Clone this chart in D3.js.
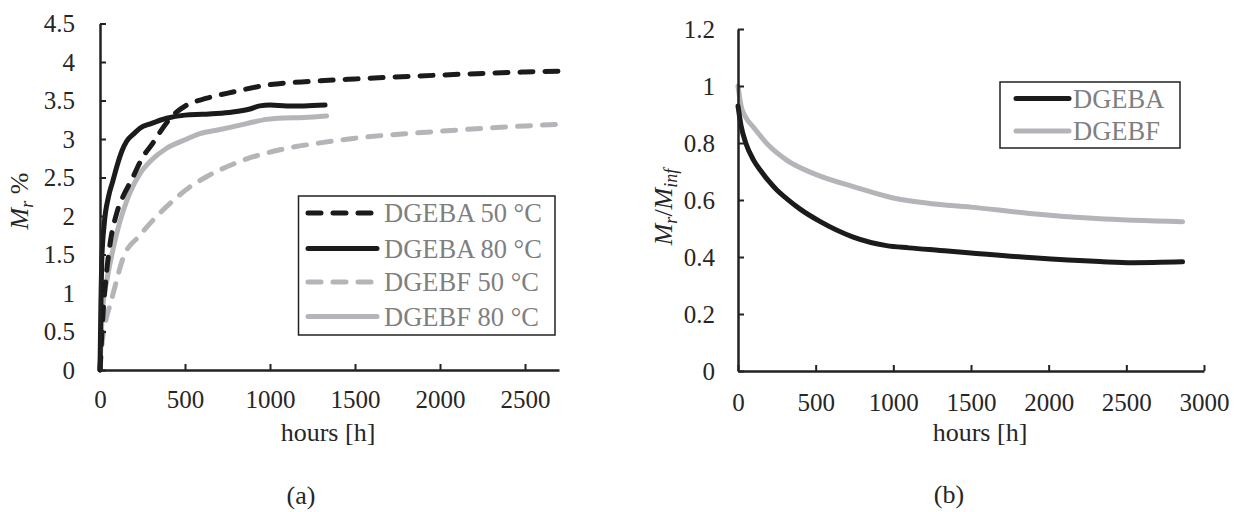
<!DOCTYPE html>
<html>
<head>
<meta charset="utf-8">
<script src="https://cdn.jsdelivr.net/npm/d3@7"></script>
<style>
  html, body { margin: 0; padding: 0; background: #fff; }
  svg { display: block; font-family: "Liberation Serif", "Times New Roman", serif; }
</style>
</head>
<body>
<svg id="chart" width="1234" height="512"></svg>
<script>
// ---- Panel (a): moisture uptake M_r % vs time ----
const hoursA_DGEBA50 = [0, 20, 40, 60, 100, 135, 186, 253, 312, 353, 430, 510, 629, 782, 980, 1255, 1500, 2000, 2500, 2700];
const valsA_DGEBA50  = [0, 0.8, 1.3, 1.65, 2.05, 2.25, 2.47, 2.77, 2.95, 3.09, 3.31, 3.44, 3.53, 3.61, 3.70, 3.75, 3.78, 3.83, 3.87, 3.88];

const hoursA_DGEBA80 = [0, 5, 10, 25, 50, 75, 100, 130, 157, 200, 235, 300, 392, 500, 600, 686, 780, 882, 940, 1000, 1100, 1200, 1324];
const valsA_DGEBA80  = [0, 0.8, 1.4, 1.9, 2.25, 2.45, 2.65, 2.85, 2.97, 3.07, 3.14, 3.2, 3.27, 3.31, 3.32, 3.33, 3.35, 3.39, 3.43, 3.44, 3.43, 3.43, 3.44];

const hoursA_DGEBF50 = [0, 15, 40, 60, 90, 135, 235, 335, 430, 530, 627, 824, 1059, 1294, 1500, 2000, 2500, 2700];
const valsA_DGEBF50  = [0, 0.4, 0.7, 0.85, 1.1, 1.45, 1.75, 2.0, 2.2, 2.38, 2.51, 2.71, 2.86, 2.95, 3.01, 3.10, 3.17, 3.19];

const hoursA_DGEBF80 = [0, 10, 20, 39, 98, 176, 235, 300, 392, 500, 588, 700, 824, 900, 980, 1050, 1200, 1333];
const valsA_DGEBF80  = [0, 0.6, 0.9, 1.15, 1.77, 2.3, 2.55, 2.72, 2.88, 2.99, 3.07, 3.12, 3.18, 3.22, 3.255, 3.27, 3.28, 3.30];

const ticksA_x = [0, 500, 1000, 1500, 2000, 2500];
const ticksA_y = [0, 0.5, 1, 1.5, 2, 2.5, 3, 3.5, 4, 4.5];
const labelsA_legend = ["DGEBA 50 °C", "DGEBA 80 °C", "DGEBF 50 °C", "DGEBF 80 °C"];

// ---- Panel (b): normalised uptake M_r/M_inf vs time ----
const hoursB_DGEBA = [0, 20, 50, 100, 150, 200, 250, 313, 400, 527, 742, 956, 1100, 1300, 1500, 1900, 2328, 2540, 2862];
const valsB_DGEBA  = [0.93, 0.86, 0.80, 0.74, 0.70, 0.665, 0.635, 0.605, 0.568, 0.525, 0.47, 0.44, 0.432, 0.423, 0.414, 0.397, 0.384, 0.38, 0.383];

const hoursB_DGEBF = [0, 20, 50, 97, 200, 313, 500, 742, 1000, 1235, 1500, 1878, 2307, 2862];
const valsB_DGEBF  = [1.0, 0.93, 0.89, 0.857, 0.79, 0.74, 0.69, 0.647, 0.607, 0.588, 0.575, 0.553, 0.535, 0.524];

const ticksB_x = [0, 500, 1000, 1500, 2000, 2500, 3000];
const ticksB_y = [0, 0.2, 0.4, 0.6, 0.8, 1, 1.2];
const labelsB_legend = ["DGEBA", "DGEBF"];

const BLACK = "#1b1b1b";
const GREY = "#b4b5b8";
const AXIS = "#222";
const TEXT = "#262626";
const LEGEND_TEXT = "#7f7f7f";
const DASH = "13 12";

const svg = d3.select("#chart");

function zip(xs, ys) { return xs.map((x, i) => ({ x, y: ys[i] })); }

function styleAxis(g) {
  g.attr("font-family", null).attr("font-size", null);
  g.select(".domain").attr("stroke", AXIS).attr("stroke-width", 2.5);
  g.selectAll(".tick line").attr("stroke", AXIS).attr("stroke-width", 2);
  g.selectAll(".tick text").attr("fill", TEXT).attr("font-size", 25);
}

// ================= Panel (a) =================
const xA = d3.scaleLinear().domain([0, 2700]).range([100, 559]);
const yA = d3.scaleLinear().domain([0, 4.5]).range([370, 23.5]);

const lineA = d3.line().x(d => xA(d.x)).y(d => yA(d.y)).curve(d3.curveMonotoneX);

const seriesA = [
  { data: zip(hoursA_DGEBA50, valsA_DGEBA50), color: BLACK, dash: DASH },
  { data: zip(hoursA_DGEBA80, valsA_DGEBA80), color: BLACK, dash: null },
  { data: zip(hoursA_DGEBF50, valsA_DGEBF50), color: GREY, dash: DASH },
  { data: zip(hoursA_DGEBF80, valsA_DGEBF80), color: GREY, dash: null }
];

// grey series first so the black ones sit on top
const gA = svg.append("g");
[2, 3, 0, 1].forEach(i => {
  const s = seriesA[i];
  gA.append("path").datum(s.data)
    .attr("d", lineA).attr("fill", "none")
    .attr("stroke", s.color).attr("stroke-width", 5)
    .attr("stroke-linecap", "round").attr("stroke-linejoin", "round")
    .attr("stroke-dasharray", s.dash);
});

svg.append("g").attr("transform", `translate(0,${yA(0)})`)
  .call(d3.axisBottom(xA).tickValues(ticksA_x).tickFormat(d3.format("d"))
    .tickSize(-6).tickSizeOuter(0).tickPadding(20))
  .call(styleAxis);

svg.append("g").attr("transform", `translate(${xA(0)},0)`)
  .call(d3.axisLeft(yA).tickValues(ticksA_y).tickFormat(d => String(d))
    .tickSize(-6).tickSizeOuter(0).tickPadding(25))
  .call(styleAxis);

// legend (a)
const legA = svg.append("g");
legA.append("rect").attr("x", 298.5).attr("y", 196).attr("width", 256.5).attr("height", 139)
  .attr("fill", "#fff").attr("stroke", "#222").attr("stroke-width", 1.5);
const legRowsA = [213, 248.5, 282, 316.5];
seriesA.forEach((s, i) => {
  legA.append("line").attr("x1", 308).attr("x2", 377)
    .attr("y1", legRowsA[i]).attr("y2", legRowsA[i])
    .attr("stroke", s.color).attr("stroke-width", 5)
    .attr("stroke-linecap", "round").attr("stroke-dasharray", s.dash);
  legA.append("text").attr("x", 384).attr("y", legRowsA[i]).attr("dy", "0.34em")
    .attr("font-size", 26.5).attr("fill", LEGEND_TEXT).text(labelsA_legend[i]);
});

// axis titles (a)
svg.append("text").attr("x", 328).attr("y", 441).attr("text-anchor", "middle")
  .attr("font-size", 26).attr("fill", TEXT).text("hours [h]");
const ytA = svg.append("text").attr("transform", "translate(28,201) rotate(-90)")
  .attr("text-anchor", "middle").attr("font-size", 26).attr("fill", TEXT);
ytA.append("tspan").attr("font-style", "italic").text("M");
ytA.append("tspan").attr("font-style", "italic").attr("font-size", 18).attr("dy", 5).text("r");
ytA.append("tspan").attr("dy", -5).text(" %");

svg.append("text").attr("x", 301).attr("y", 504).attr("text-anchor", "middle")
  .attr("font-size", 26).attr("fill", TEXT).text("(a)");

// ================= Panel (b) =================
const xB = d3.scaleLinear().domain([0, 3000]).range([738, 1204]);
const yB = d3.scaleLinear().domain([0, 1.2]).range([371, 29]);

const lineB = d3.line().x(d => xB(d.x)).y(d => yB(d.y)).curve(d3.curveMonotoneX);

const seriesB = [
  { data: zip(hoursB_DGEBA, valsB_DGEBA), color: BLACK },
  { data: zip(hoursB_DGEBF, valsB_DGEBF), color: GREY }
];

const gB = svg.append("g");
[1, 0].forEach(i => {
  gB.append("path").datum(seriesB[i].data)
    .attr("d", lineB).attr("fill", "none")
    .attr("stroke", seriesB[i].color).attr("stroke-width", 5)
    .attr("stroke-linecap", "round").attr("stroke-linejoin", "round");
});

svg.append("g").attr("transform", `translate(0,${yB(0)})`)
  .call(d3.axisBottom(xB).tickValues(ticksB_x).tickFormat(d3.format("d"))
    .tickSize(-6).tickSizeOuter(0).tickPadding(22))
  .call(styleAxis);

svg.append("g").attr("transform", `translate(${xB(0)},0)`)
  .call(d3.axisLeft(yB).tickValues(ticksB_y).tickFormat(d => String(d))
    .tickSize(-6).tickSizeOuter(0).tickPadding(23))
  .call(styleAxis);

// legend (b)
const legB = svg.append("g");
legB.append("rect").attr("x", 1000).attr("y", 82).attr("width", 180).attr("height", 66)
  .attr("fill", "#fff").attr("stroke", "#222").attr("stroke-width", 1.5);
const legRowsB = [98.5, 131];
seriesB.forEach((s, i) => {
  legB.append("line").attr("x1", 1016).attr("x2", 1069)
    .attr("y1", legRowsB[i]).attr("y2", legRowsB[i])
    .attr("stroke", s.color).attr("stroke-width", 5).attr("stroke-linecap", "round");
  legB.append("text").attr("x", 1073).attr("y", legRowsB[i]).attr("dy", "0.34em")
    .attr("font-size", 26.5).attr("fill", LEGEND_TEXT).text(labelsB_legend[i]);
});

// axis titles (b)
svg.append("text").attr("x", 980).attr("y", 441).attr("text-anchor", "middle")
  .attr("font-size", 26).attr("fill", TEXT).text("hours [h]");
const ytB = svg.append("text").attr("transform", "translate(672,207) rotate(-90)")
  .attr("text-anchor", "middle").attr("font-size", 26).attr("fill", TEXT);
ytB.append("tspan").attr("font-style", "italic").text("M");
ytB.append("tspan").attr("font-style", "italic").attr("font-size", 18).attr("dy", 5).text("r");
ytB.append("tspan").attr("dy", -5).text("/");
ytB.append("tspan").attr("font-style", "italic").text("M");
ytB.append("tspan").attr("font-style", "italic").attr("font-size", 18).attr("dy", 5).text("inf");

svg.append("text").attr("x", 949).attr("y", 503).attr("text-anchor", "middle")
  .attr("font-size", 26).attr("fill", TEXT).text("(b)");
</script>
</body>
</html>
